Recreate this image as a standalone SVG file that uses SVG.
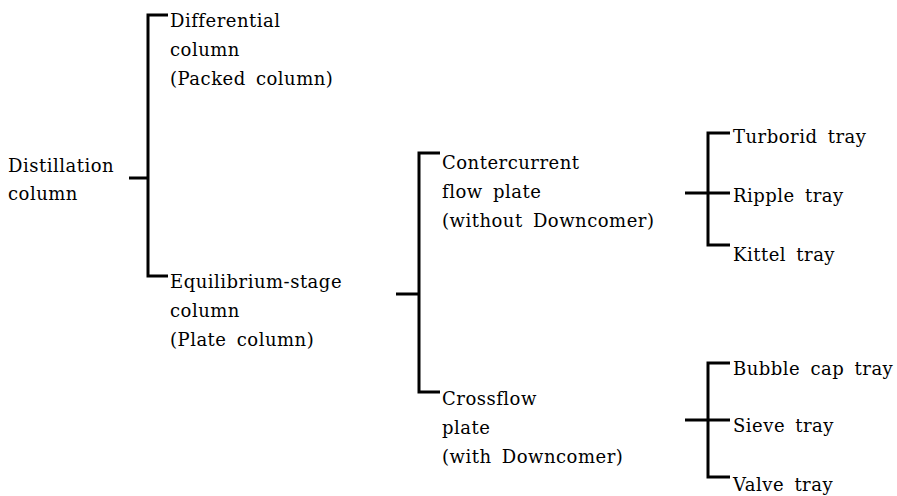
<svg xmlns="http://www.w3.org/2000/svg" width="897" height="496" viewBox="0 0 897 496">
<style>
text{font-family:'DejaVu Serif','Liberation Serif',serif;font-size:18px;fill:#000;letter-spacing:0.5px;word-spacing:4px}
.c{stroke:#000;stroke-width:3;fill:none;stroke-linecap:butt}
</style>
<rect width="897" height="496" fill="#fff"/>
<g id="connectors">
<path class="c" d="M129 178H148M168 15H148V276H168"/>
<path class="c" d="M396 294H419M440 153H419V392H440"/>
<path class="c" d="M685 193H730M730 133H708V245H730"/>
<path class="c" d="M685 420H730M730 363H708V477H730"/>
</g>
<g id="n-distillation"><text x="8" y="172">Distillation</text><text x="8" y="200">column</text></g>
<g id="n-differential"><text x="170" y="27">Differential</text><text x="170" y="56">column</text><text x="170" y="85">(Packed column)</text></g>
<g id="n-equilibrium"><text x="170" y="288">Equilibrium-stage</text><text x="170" y="317">column</text><text x="170" y="346">(Plate column)</text></g>
<g id="n-countercurrent"><text x="442" y="169">Contercurrent</text><text x="442" y="198">flow plate</text><text x="442" y="227">(without Downcomer)</text></g>
<g id="n-crossflow"><text x="442" y="405">Crossflow</text><text x="442" y="434">plate</text><text x="442" y="463">(with Downcomer)</text></g>
<g id="n-turborid"><text x="733" y="143">Turborid tray</text></g>
<g id="n-ripple"><text x="733" y="202">Ripple tray</text></g>
<g id="n-kittel"><text x="733" y="261">Kittel tray</text></g>
<g id="n-bubble"><text x="733" y="375">Bubble cap tray</text></g>
<g id="n-sieve"><text x="733" y="432">Sieve tray</text></g>
<g id="n-valve"><text x="733" y="491">Valve tray</text></g>
</svg>
